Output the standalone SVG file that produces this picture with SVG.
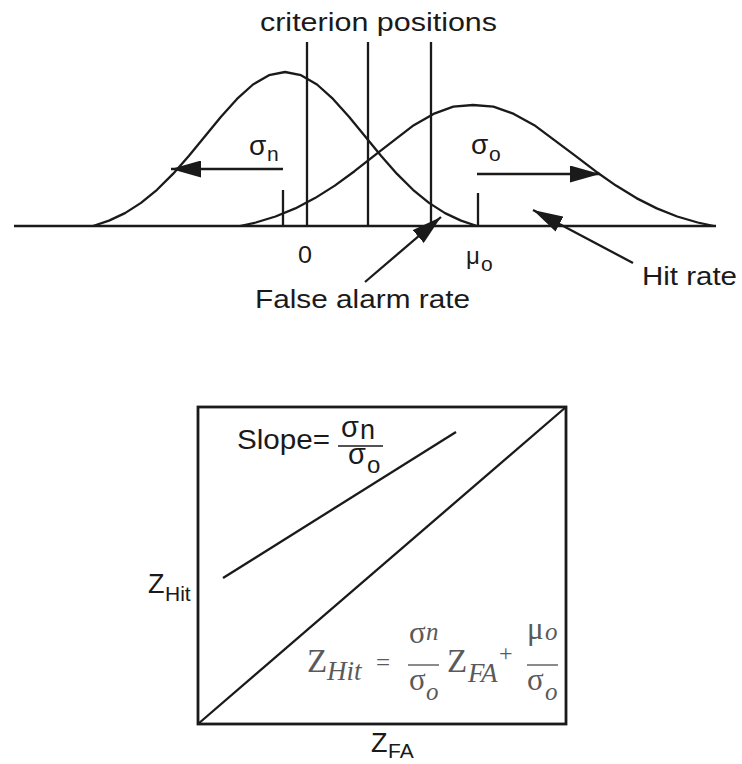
<svg xmlns="http://www.w3.org/2000/svg" width="742" height="764" viewBox="0 0 742 764">
<style>
.ln{stroke:#1a1a1a;stroke-width:2.3;fill:none}
.bx{stroke:#1a1a1a;stroke-width:2.8;fill:none}
.t{font-family:"Liberation Sans",Arial,Helvetica,sans-serif;fill:#1a1a1a}
.m{font-family:"Liberation Serif","Times New Roman",serif;fill:#5a5a5a}
.i{font-style:italic}
</style>
<defs>
<marker id="ah" markerUnits="userSpaceOnUse" markerWidth="30" markerHeight="17" refX="30" refY="8.5" orient="auto">
<path d="M0,0 L30,8.5 L0,17 z" fill="#1a1a1a"/>
</marker>
</defs>
<rect width="742" height="764" fill="#fff"/>
<g id="top-plot">
<line class="ln" x1="14" y1="226" x2="716" y2="226"/>
<polyline id="noise-curve" class="ln" stroke-linejoin="round" points="93,226 109,220.6 125,213.1 141,202.9 157,189.8 173,173.9 189,155.7 205,136.2 221,116.7 237,98.9 253,84.5 269,75.2 285,72 301,75.2 317,84.5 333,98.9 349,116.7 365,136.2 381,155.7 397,173.9 413,189.8 429,202.9 445,213.1 461,220.6 477,226"/>
<polyline id="old-curve" class="ln" stroke-linejoin="round" points="240,226 255.8,222.5 275.5,216.5 295.3,208.4 315,198.1 334.8,185.6 354.5,171.2 374.3,155.7 394,140.3 413.8,125.2 433.5,113.9 453.3,106.6 473,105 493.4,106.6 513.8,113.9 534.3,125.2 554.7,140.3 575.1,155.7 595.5,171.2 616,185.6 636.4,198.1 656.8,208.4 677.2,216.5 697.7,222.5 714,226"/>
<g id="criteria">
<line class="ln" x1="307" y1="42" x2="307" y2="226"/>
<line class="ln" x1="368" y1="42" x2="368" y2="226"/>
<line class="ln" x1="431" y1="42" x2="431" y2="226"/>
</g>
<line class="ln" x1="283" y1="190" x2="283" y2="226"/>
<line class="ln" x1="478" y1="193" x2="478" y2="226"/>
</g>
<g id="connectors">
<line class="ln" x1="283" y1="169" x2="171" y2="169" marker-end="url(#ah)"/>
<line class="ln" x1="477" y1="174" x2="600" y2="174" marker-end="url(#ah)"/>
<line class="ln" x1="365" y1="282" x2="441" y2="217" marker-end="url(#ah)"/>
<line class="ln" x1="633" y1="263" x2="533" y2="210" marker-end="url(#ah)"/>
</g>
<g id="top-labels">
<text class="t" x="260" y="31" font-size="26" textLength="237" lengthAdjust="spacingAndGlyphs">criterion positions</text>
<text id="sigma-n" class="t" font-size="28"><tspan x="249" y="155">σ</tspan><tspan x="267" y="161" font-size="21">n</tspan></text>
<text id="sigma-o" class="t" font-size="28"><tspan x="471" y="154">σ</tspan><tspan x="489" y="161" font-size="21">o</tspan></text>
<text class="t" x="298" y="263" font-size="23" textLength="14" lengthAdjust="spacingAndGlyphs">0</text>
<text id="mu-o" class="t" font-size="24"><tspan x="466" y="264">μ</tspan><tspan x="481" y="271" font-size="21">o</tspan></text>
<text class="t" x="642" y="285" font-size="26" textLength="95" lengthAdjust="spacingAndGlyphs">Hit rate</text>
<text class="t" x="255" y="308" font-size="26" textLength="215" lengthAdjust="spacingAndGlyphs">False alarm rate</text>
</g>
<g id="roc-plot">
<rect class="bx" x="198" y="407" width="368" height="317"/>
<line class="ln" x1="198" y1="724" x2="566" y2="407"/>
<line class="ln" x1="223" y1="578" x2="456" y2="432" stroke-width="2.6"/>
</g>
<g id="slope-label">
<text class="t" x="237" y="449" font-size="28" textLength="93" lengthAdjust="spacingAndGlyphs">Slope=</text>
<text class="t" font-size="29"><tspan x="341" y="437">σ</tspan><tspan x="360" y="439" font-size="27">n</tspan></text>
<line x1="338" y1="446" x2="383" y2="446" stroke="#1a1a1a" stroke-width="1.3"/>
<text class="t" font-size="29"><tspan x="348" y="464">σ</tspan><tspan x="367" y="473" font-size="24">o</tspan></text>
</g>
<text id="zhit-label" class="t" font-size="27"><tspan x="148" y="593">Z</tspan><tspan x="165" y="601" font-size="21">Hit</tspan></text>
<text id="zfa-label" class="t" font-size="27"><tspan x="371" y="752">Z</tspan><tspan x="388" y="758" font-size="21">FA</tspan></text>
<g id="equation">
<text class="m" font-size="33"><tspan x="307" y="672">Z</tspan><tspan class="i" x="327" y="680" font-size="27">Hit</tspan></text>
<text class="m" x="376" y="671" font-size="25">=</text>
<text class="m" font-size="31"><tspan x="409" y="643">σ</tspan><tspan class="i" x="426" y="640" font-size="25">n</tspan></text>
<line x1="408" y1="665" x2="439" y2="665" stroke="#5a5a5a" stroke-width="1.4"/>
<text class="m" font-size="31"><tspan x="409" y="690">σ</tspan><tspan class="i" x="426" y="700" font-size="25">o</tspan></text>
<text class="m" font-size="33"><tspan x="447" y="672">Z</tspan><tspan class="i" x="468" y="682" font-size="27">FA</tspan></text>
<text class="m" x="499" y="661" font-size="24">+</text>
<text class="m" font-size="31"><tspan x="527" y="639">μ</tspan><tspan class="i" x="545" y="640" font-size="25">o</tspan></text>
<line x1="527" y1="665" x2="558" y2="665" stroke="#5a5a5a" stroke-width="1.4"/>
<text class="m" font-size="31"><tspan x="527" y="690">σ</tspan><tspan class="i" x="545" y="700" font-size="25">o</tspan></text>
</g>
</svg>
